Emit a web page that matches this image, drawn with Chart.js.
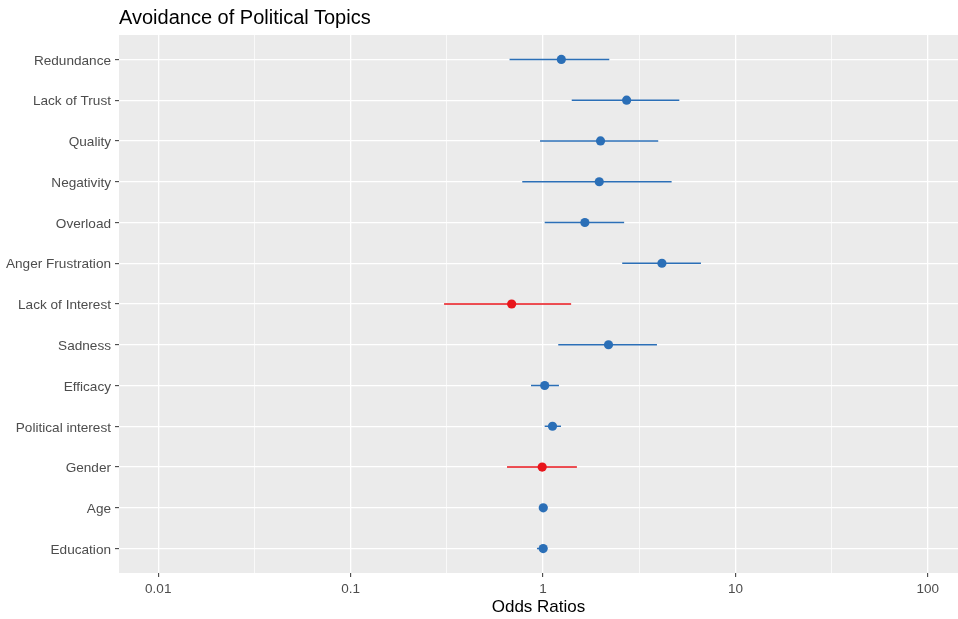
<!DOCTYPE html>
<html>
<head>
<meta charset="utf-8">
<script src="https://cdn.jsdelivr.net/npm/chart.js@4/dist/chart.umd.min.js"></script>
<style>
  html, body { margin: 0; padding: 0; background: #ffffff; }
  #wrap { position: relative; width: 958px; height: 619px; }
  #title {
    position: absolute; left: 119px; top: 7px;
    font-family: "Liberation Sans", Arial, sans-serif;
    font-size: 20px; line-height: 20px; color: #000000; white-space: nowrap;
  }
  canvas { display: block; }
</style>
</head>
<body>
<div id="wrap">
  <div id="title">Avoidance of Political Topics</div>
  <canvas id="chart" width="958" height="619"></canvas>
</div>
<script>
// Predictors, listed top to bottom
const categories = [
  'Redundance', 'Lack of Trust', 'Quality', 'Negativity', 'Overload',
  'Anger Frustration', 'Lack of Interest', 'Sadness', 'Efficacy',
  'Political interest', 'Gender', 'Age', 'Education'
];
// Odds ratios and 95% confidence bounds
const oddsRatio = [1.245, 2.72, 1.99, 1.96, 1.65, 4.15, 0.687, 2.19, 1.02, 1.12, 0.99, 1.003, 1.002];
const ciLow     = [0.67, 1.41, 0.965, 0.78, 1.02, 2.58, 0.306, 1.20, 0.866, 1.02, 0.65, 0.98, 0.93];
const ciHigh    = [2.21, 5.11, 3.97, 4.66, 2.64, 6.62, 1.40, 3.91, 1.21, 1.24, 1.50, 1.02, 1.04];
// Labelled x ticks
const majorTicks = [0.01, 0.1, 1, 10, 100];

const BLUE = '#2B6FB7';
const RED = '#E8151B';
const colorFor = v => (v < 1 ? RED : BLUE);

// Minor grid lines sit halfway (in log space) between major ticks
const minorTicks = [];
for (let i = 0; i < majorTicks.length - 1; i++) {
  minorTicks.push(Math.sqrt(majorTicks[i] * majorTicks[i + 1]));
}
const allTicks = majorTicks.concat(minorTicks).sort((a, b) => a - b);
const isMajor = v => majorTicks.some(m => Math.abs(m - v) / m < 1e-6);

const ciDatasets = categories.map((c, i) => ({
  label: c + ' CI',
  data: [{ x: ciLow[i], y: i + 1 }, { x: ciHigh[i], y: i + 1 }],
  showLine: true,
  borderColor: colorFor(oddsRatio[i]),
  borderWidth: 1.5,
  pointRadius: 0,
  order: 1
}));

const pointDataset = {
  label: 'Odds ratio',
  data: categories.map((c, i) => ({ x: oddsRatio[i], y: i + 1 })),
  pointRadius: 4.6,
  pointBackgroundColor: oddsRatio.map(colorFor),
  pointBorderColor: oddsRatio.map(colorFor),
  pointBorderWidth: 0,
  showLine: false,
  order: 0
};

// Grey panel behind the plotting area
const panelBackground = {
  id: 'panelBackground',
  beforeDraw(chart) {
    const { ctx, chartArea: a } = chart;
    ctx.save();
    ctx.fillStyle = '#EBEBEB';
    ctx.fillRect(a.left, a.top, a.right - a.left, a.bottom - a.top);
    ctx.restore();
  }
};

const FONT = "'Liberation Sans', Arial, sans-serif";

new Chart(document.getElementById('chart'), {
  type: 'scatter',
  data: { datasets: [pointDataset, ...ciDatasets] },
  options: {
    responsive: false,
    animation: false,
    layout: { autoPadding: false, padding: { top: 35, left: 0, right: 0, bottom: 0 } },
    plugins: { legend: { display: false }, tooltip: { enabled: false } },
    scales: {
      x: {
        type: 'logarithmic',
        min: Math.pow(10, -2.204),
        max: Math.pow(10, 2.157),
        afterBuildTicks(scale) {
          scale.ticks = allTicks.map(v => ({ value: v, major: isMajor(v) }));
        },
        afterFit(scale) {
          scale.height = 46;
          scale.paddingLeft = 0;
          scale.paddingRight = 0;
        },
        border: { display: false },
        grid: {
          color: '#FFFFFF',
          lineWidth: ctx => (ctx.tick && isMajor(ctx.tick.value) ? 1.3 : 0.7),
          drawTicks: true,
          tickLength: 4,
          tickWidth: 1,
          tickColor: ctx => (ctx.tick && isMajor(ctx.tick.value) ? '#333333' : 'rgba(0,0,0,0)')
        },
        ticks: {
          autoSkip: false,
          maxRotation: 0,
          padding: 4,
          color: '#4D4D4D',
          font: { family: FONT, size: 13.5 },
          callback: v => (isMajor(v) ? String(v) : '')
        },
        title: {
          display: true,
          text: 'Odds Ratios',
          color: '#000000',
          font: { family: FONT, size: 17 },
          padding: { top: 0, bottom: 1 }
        }
      },
      y: {
        type: 'linear',
        reverse: true,
        min: 0.4,
        max: categories.length + 0.6,
        afterBuildTicks(scale) {
          scale.ticks = categories.map((c, i) => ({ value: i + 1 }));
        },
        afterFit(scale) { scale.width = 119; },
        border: { display: false },
        grid: {
          color: '#FFFFFF',
          lineWidth: 1.3,
          drawTicks: true,
          tickLength: 4,
          tickWidth: 1,
          tickColor: '#333333'
        },
        ticks: {
          autoSkip: false,
          padding: 4,
          labelOffset: 1.5,
          color: '#4D4D4D',
          font: { family: FONT, size: 13.6 },
          callback: v => categories[Math.round(v) - 1] || ''
        }
      }
    }
  },
  plugins: [panelBackground]
});
</script>
</body>
</html>
